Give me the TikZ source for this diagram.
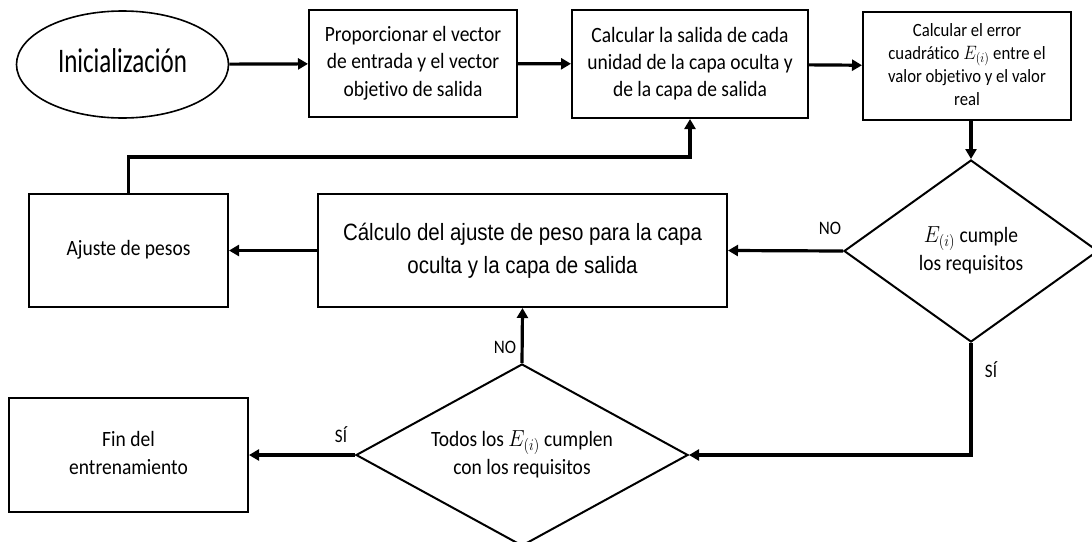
\documentclass[tikz,border=0pt]{standalone}
\usepackage{fontspec}
\usepackage{graphicx}
\setmainfont{Carlito}[Ligatures=NoCommon]
\newfontfamily\arialf{Liberation Sans}
\usetikzlibrary{shapes.geometric,arrows.meta}
\newcommand\vt[2][1.12]{\scalebox{1}[#1]{\begin{tabular}{@{}c@{}}#2\end{tabular}}}
\begin{document}
\begin{tikzpicture}[x=1pt,y=-1pt,
  every node/.style={font=\fontsize{19.5}{24.5}\selectfont},
  box/.style={draw,line width=2pt,rectangle,inner sep=0pt,align=center},
  dec/.style={draw,line width=2pt,diamond,inner sep=0pt,align=center},
  conn/.style={line width=3.2pt,-{Triangle[length=10pt,width=11pt]}},
  lbl/.style={font=\fontsize{17}{20}\selectfont}]
\useasboundingbox (0,0) rectangle (1092,541);
\node[draw,ellipse,line width=1.6pt,minimum width=212pt,minimum height=107pt,inner sep=0pt,font=\fontsize{25}{29}\selectfont] (ini) at (122.5,64.5) {\vt[1.38]{Inicialización}};
\node[box,minimum width=208pt,minimum height=107pt] (b1) at (413,63.5) {\vt{Proporcionar el vector\\de entrada y el vector\\objetivo de salida}};
\node[box,minimum width=236pt,minimum height=108pt] (b2) at (690,64) {\vt{Calcular la salida de cada\\unidad de la capa oculta y\\de la capa de salida}};
\node[box,minimum width=208pt,minimum height=108pt,font=\fontsize{16.7}{20.5}\selectfont] (b3) at (967,66) {\vt{Calcular el error\\cuadrático $E_{(i)}$ entre el\\valor objetivo y el valor\\real}};
\node[dec,minimum width=254pt,minimum height=182pt,aspect=1.4] (d1) at (971,251) {\vt{$E_{(i)}$ cumple\\los requisitos}};
\node[box,minimum width=409pt,minimum height=113pt,font=\arialf\fontsize{20.5}{28}\selectfont] (calc) at (522.5,250.5) {\vt[1.15]{Cálculo del ajuste de peso para la capa\\oculta y la capa de salida}};
\node[box,minimum width=199pt,minimum height=113pt] (aj) at (128.5,250.5) {\vt{Ajuste de pesos}};
\node[dec,minimum width=332pt,minimum height=182pt,aspect=1.82] (d2) at (522,455) {\vt{Todos los $E_{(i)}$ cumplen\\con los requisitos}};
\node[box,minimum width=239pt,minimum height=114pt] (fin) at (128.5,455) {\vt{Fin del\\entrenamiento}};
\coordinate (fb) at (400,157);
\draw[conn] (ini) -- (b1);
\draw[conn] (b1) -- (b2);
\draw[conn] (b2) -- (b3);
\draw[conn] (d1.north |- b3.south) -- (d1.north);
\draw[conn] (d1.west) -- (calc.east);
\draw[conn] (calc.west) -- (aj.east);
\draw[conn] (d1.south) |- (d2.east);
\draw[conn] (d2.north) -- (calc.south);
\draw[conn] (d2.west) -- (fin.east);
\draw[conn] (aj.north) |- (fb) -| (b2.south);
\node[lbl] (no1) at (830,230) {\vt{NO}};
\node[lbl] (si1) at (991,373) {\vt{SÍ}};
\node[lbl] (no2) at (505,349) {\vt{NO}};
\node[lbl] (si2) at (341,438) {\vt{SÍ}};
\end{tikzpicture}
\end{document}
